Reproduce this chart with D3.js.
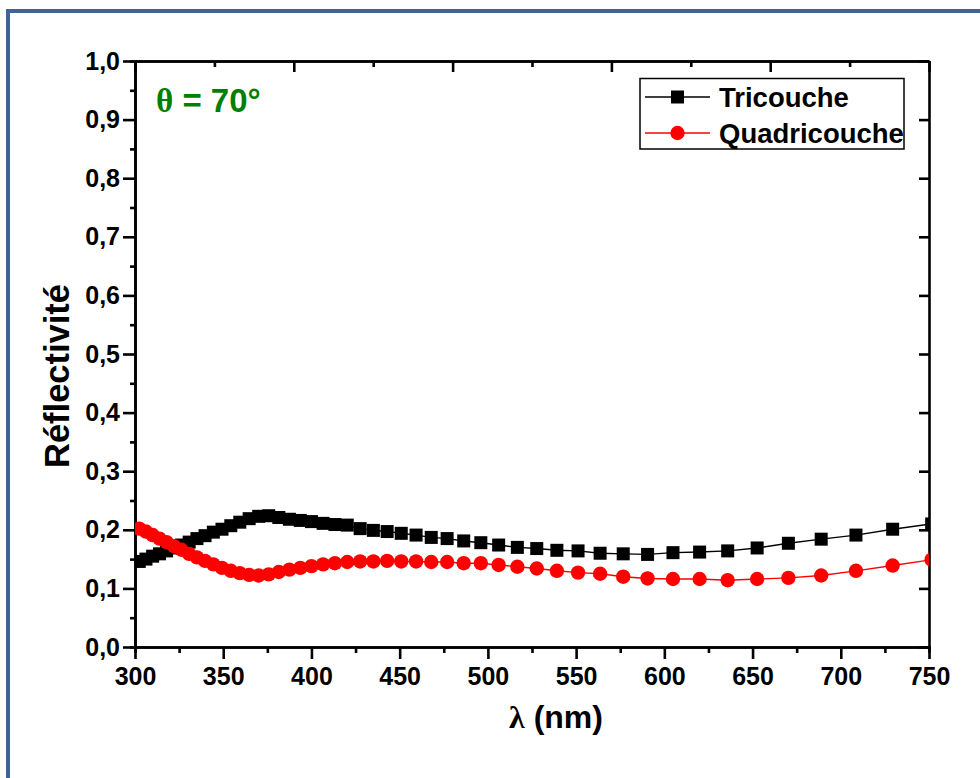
<!DOCTYPE html>
<html>
<head>
<meta charset="utf-8">
<script src="https://cdn.jsdelivr.net/npm/d3@7"></script>
<style>
  html, body { margin: 0; padding: 0; background: #ffffff; }
  svg { display: block; }
  text { font-family: "Liberation Sans", Arial, sans-serif; font-weight: bold; }
</style>
</head>
<body>
<svg id="chart" width="980" height="778"></svg>
<script>
// ---- data ----
const wavelengths = [302.4, 306.2, 310.0, 313.9, 317.9, 322.1, 326.3, 330.7, 335.1, 339.7,
  344.4, 349.3, 354.3, 359.4, 364.7, 370.1, 375.8, 381.5, 387.5, 393.7,
  400.0, 406.6, 413.3, 420.3, 427.6, 435.1, 442.9, 450.9, 459.3, 467.9,
  476.9, 486.3, 496.0, 506.1, 516.7, 527.7, 539.1, 551.1, 563.6, 576.7,
  590.5, 604.9, 620.0, 635.9, 652.6, 670.3, 688.9, 708.6, 729.4, 751.5];
const tricouche = [0.146, 0.150, 0.155, 0.159, 0.164, 0.169, 0.174, 0.179, 0.185, 0.190,
  0.196, 0.201, 0.207, 0.213, 0.219, 0.223, 0.224, 0.221, 0.218, 0.216,
  0.214, 0.211, 0.209, 0.208, 0.202, 0.199, 0.197, 0.194, 0.191, 0.187,
  0.185, 0.181, 0.178, 0.174, 0.170, 0.168, 0.165, 0.164, 0.160, 0.159,
  0.158, 0.161, 0.162, 0.164, 0.169, 0.177, 0.184, 0.191, 0.201, 0.210];
const quadricouche = [0.202, 0.197, 0.191, 0.185, 0.179, 0.172, 0.166, 0.159, 0.153, 0.147,
  0.141, 0.135, 0.130, 0.126, 0.123, 0.122, 0.124, 0.128, 0.132, 0.135,
  0.138, 0.141, 0.143, 0.145, 0.146, 0.146, 0.147, 0.146, 0.146, 0.145,
  0.145, 0.143, 0.143, 0.140, 0.137, 0.134, 0.130, 0.127, 0.125, 0.120,
  0.117, 0.116, 0.116, 0.114, 0.116, 0.118, 0.122, 0.130, 0.139, 0.149];
const seriesNames = ["Tricouche", "Quadricouche"];
const xTicks = [300, 350, 400, 450, 500, 550, 600, 650, 700, 750];
const xMinorTicks = [325, 375, 425, 475, 525, 575, 625, 675, 725];
const yTicks = [0, 0.1, 0.2, 0.3, 0.4, 0.5, 0.6, 0.7, 0.8, 0.9, 1.0];
const yMinorTicks = [0.05, 0.15, 0.25, 0.35, 0.45, 0.55, 0.65, 0.75, 0.85, 0.95];
const topTicks = [0, 2, 4, 6, 8, 10];
const topMinorTicks = [1, 3, 5, 7, 9];
const xLabelParts = ["λ", " (nm)"];
const yLabel = "Réflectivité";
const annotationParts = ["θ", " = 70°"];

// ---- layout ----
const L = 135, R = 929, T = 61, B = 647;
const svg = d3.select("#chart");

// outer blue frame
svg.append("rect").attr("x", 8).attr("y", 11).attr("width", 1000).attr("height", 800)
  .attr("fill", "none").attr("stroke", "#3f6596").attr("stroke-width", 4);

const x = d3.scaleLinear().domain([300, 750]).range([L, R]);
const y = d3.scaleLinear().domain([0, 1]).range([B, T]);
const xTop = d3.scaleLinear().domain([0, 10]).range([L, R]);

const fmt = d => d3.format(".1f")(d).replace(".", ",");

function styleAxis(g) {
  g.selectAll("path").attr("stroke", "#000").attr("stroke-width", 2.6);
  g.selectAll("line").attr("stroke", "#000").attr("stroke-width", 2.6);
  g.selectAll("text").attr("fill", "#000").style("font-size", "25px")
    .style("font-family", '"Liberation Sans", Arial, sans-serif').style("font-weight", "bold");
}

// bottom axis
svg.append("g").attr("transform", `translate(0,${B})`)
  .call(d3.axisBottom(x).tickValues(xMinorTicks).tickSize(6).tickFormat(""))
  .call(styleAxis);
svg.append("g").attr("transform", `translate(0,${B})`)
  .call(d3.axisBottom(x).tickValues(xTicks).tickSize(12).tickSizeOuter(0).tickPadding(8).tickFormat(d3.format("d")))
  .call(styleAxis);
// left axis
svg.append("g").attr("transform", `translate(${L},0)`)
  .call(d3.axisLeft(y).tickValues(yMinorTicks).tickSize(5).tickFormat(""))
  .call(styleAxis);
svg.append("g").attr("transform", `translate(${L},0)`)
  .call(d3.axisLeft(y).tickValues(yTicks).tickSize(12).tickSizeOuter(0).tickPadding(3).tickFormat(fmt))
  .call(styleAxis);
// top axis (inward ticks, no labels)
svg.append("g").attr("transform", `translate(0,${T})`)
  .call(d3.axisTop(xTop).tickValues(topMinorTicks).tickSizeInner(-6).tickSizeOuter(0).tickFormat(""))
  .call(styleAxis);
svg.append("g").attr("transform", `translate(0,${T})`)
  .call(d3.axisTop(xTop).tickValues(topTicks).tickSizeInner(-11).tickSizeOuter(0).tickFormat(""))
  .call(styleAxis);
// right axis (inward ticks, no labels)
svg.append("g").attr("transform", `translate(${R},0)`)
  .call(d3.axisRight(y).tickValues(yTicks).tickSizeInner(-10).tickSizeOuter(0).tickFormat(""))
  .call(styleAxis);

// clip
svg.append("clipPath").attr("id", "clip").append("rect")
  .attr("x", L).attr("y", T).attr("width", R - L).attr("height", B - T);
const plot = svg.append("g").attr("clip-path", "url(#clip)");

const line = d3.line().x(d => x(d[0])).y(d => y(d[1]));
const triData = wavelengths.map((w, i) => [w, tricouche[i]]);
const quadData = wavelengths.map((w, i) => [w, quadricouche[i]]);

plot.append("path").datum(triData).attr("d", line).attr("fill", "none")
  .attr("stroke", "#000").attr("stroke-width", 1.4);
plot.append("path").datum(quadData).attr("d", line).attr("fill", "none")
  .attr("stroke", "#ff0000").attr("stroke-width", 1.4);

const sq = 13;
plot.selectAll("rect.tri").data(triData).enter().append("rect").attr("class", "tri")
  .attr("x", d => x(d[0]) - sq / 2).attr("y", d => y(d[1]) - sq / 2)
  .attr("width", sq).attr("height", sq).attr("fill", "#000");
plot.selectAll("circle.quad").data(quadData).enter().append("circle").attr("class", "quad")
  .attr("cx", d => x(d[0])).attr("cy", d => y(d[1])).attr("r", 7.2).attr("fill", "#ff0000");

// legend
const lg = svg.append("g");
lg.append("rect").attr("x", 640).attr("y", 78.5).attr("width", 264).attr("height", 70.5)
  .attr("fill", "#fff").attr("stroke", "#000").attr("stroke-width", 1.5);
const legendRows = [
  { name: seriesNames[0], color: "#000", y: 97, shape: "square" },
  { name: seriesNames[1], color: "#ff0000", y: 133, shape: "circle" }
];
legendRows.forEach(r => {
  lg.append("line").attr("x1", 645).attr("x2", 710).attr("y1", r.y).attr("y2", r.y)
    .attr("stroke", r.color).attr("stroke-width", 1.4);
  if (r.shape === "square") {
    lg.append("rect").attr("x", 677.5 - 6.5).attr("y", r.y - 6.5).attr("width", 13).attr("height", 13).attr("fill", r.color);
  } else {
    lg.append("circle").attr("cx", 677.5).attr("cy", r.y).attr("r", 7.2).attr("fill", r.color);
  }
  lg.append("text").attr("x", 719).attr("y", r.y + 9.5).style("font-size", "27.5px").attr("fill", "#000").text(r.name);
});

// annotation
svg.append("text").attr("x", 156).attr("y", 112)
  .style("font-size", "33px").attr("fill", "#008000")
  .selectAll("tspan").data(annotationParts.map((t, i) => [t, i === 0])).enter().append("tspan")
  .style("font-family", d => d[1] ? '"Liberation Serif", "DejaVu Serif", serif' : '"Liberation Sans", Arial, sans-serif')
  .style("font-weight", "bold")
  .text(d => d[0]);

// axis titles
svg.append("text").attr("x", 556).attr("y", 728).attr("text-anchor", "middle")
  .style("font-size", "32px").attr("fill", "#000")
  .selectAll("tspan").data(xLabelParts.map((t, i) => [t, i === 0])).enter().append("tspan")
  .style("font-family", d => d[1] ? '"Liberation Serif", "DejaVu Serif", serif' : '"Liberation Sans", Arial, sans-serif')
  .text(d => d[0]);

svg.append("text").attr("transform", "translate(69,376) rotate(-90)").attr("text-anchor", "middle")
  .style("font-size", "34.5px").attr("fill", "#000").text(yLabel);
</script>
</body>
</html>
